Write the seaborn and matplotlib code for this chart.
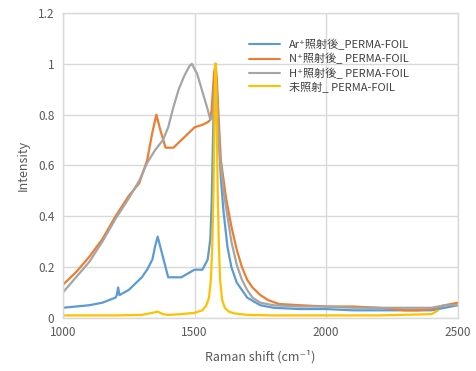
import matplotlib
matplotlib.use("Agg")
import matplotlib.pyplot as plt
import seaborn as sns
import pandas as pd

# --- data ---
ar_x = [1000, 1050, 1100, 1150, 1200, 1205, 1210, 1215, 1250, 1300, 1320, 1340, 1350, 1360, 1370, 1380,
        1400, 1450, 1500, 1530, 1550, 1560, 1565, 1570, 1575, 1580, 1585, 1590, 1600, 1610, 1625, 1640,
        1660, 1700, 1750, 1800, 1900, 2000, 2100, 2200, 2300, 2400, 2450, 2500]
ar_y = [0.04, 0.045, 0.05, 0.06, 0.08, 0.09, 0.12, 0.09, 0.11, 0.16, 0.19, 0.23, 0.28, 0.32, 0.28, 0.24,
        0.16, 0.16, 0.19, 0.19, 0.23, 0.31, 0.45, 0.70, 0.92, 1.0, 0.88, 0.75, 0.55, 0.42, 0.28, 0.20,
        0.14, 0.08, 0.05, 0.04, 0.035, 0.035, 0.03, 0.03, 0.03, 0.03, 0.04, 0.05]

n_x = [1000, 1050, 1100, 1150, 1200, 1250, 1290, 1320, 1340, 1355, 1370, 1390, 1420, 1450, 1500, 1530,
       1550, 1560, 1565, 1570, 1575, 1580, 1585, 1590, 1600, 1620, 1640, 1660, 1680, 1700, 1720, 1750,
       1780, 1820, 1900, 2000, 2100, 2200, 2250, 2300, 2350, 2400, 2450, 2500]
n_y = [0.13, 0.18, 0.24, 0.31, 0.40, 0.48, 0.53, 0.62, 0.73, 0.80, 0.74, 0.67, 0.67, 0.70, 0.75, 0.76,
       0.77, 0.78, 0.82, 0.90, 0.97, 1.0, 0.93, 0.82, 0.62, 0.47, 0.36, 0.27, 0.20, 0.15, 0.12, 0.09,
       0.07, 0.055, 0.05, 0.045, 0.045, 0.04, 0.035, 0.03, 0.03, 0.035, 0.05, 0.06]

h_x = [1000, 1050, 1100, 1150, 1200, 1250, 1290, 1320, 1350, 1380, 1400, 1420, 1440, 1460, 1480, 1490,
       1500, 1510, 1530, 1550, 1560, 1570, 1575, 1580, 1585, 1595, 1600, 1610, 1625, 1640, 1660, 1680,
       1700, 1720, 1750, 1800, 1900, 2000, 2100, 2200, 2300, 2400, 2450, 2500]
h_y = [0.10, 0.16, 0.22, 0.30, 0.39, 0.47, 0.54, 0.61, 0.66, 0.70, 0.75, 0.83, 0.90, 0.95, 0.99, 1.0,
       0.98, 0.96, 0.89, 0.82, 0.78, 0.80, 0.90, 0.97, 0.88, 0.66, 0.60, 0.50, 0.40, 0.30, 0.21, 0.15,
       0.11, 0.08, 0.06, 0.05, 0.045, 0.045, 0.04, 0.04, 0.04, 0.04, 0.05, 0.05]

u_x = [1000, 1100, 1200, 1300, 1340, 1360, 1380, 1400, 1450, 1500, 1530, 1545, 1555, 1562, 1568, 1572,
       1576, 1580, 1584, 1588, 1592, 1597, 1605, 1615, 1630, 1650, 1700, 1800, 2000, 2200, 2400, 2425]
u_y = [0.01, 0.01, 0.01, 0.012, 0.02, 0.025, 0.015, 0.012, 0.015, 0.02, 0.03, 0.05, 0.08, 0.15, 0.30, 0.50,
       0.80, 1.0, 0.80, 0.50, 0.30, 0.15, 0.07, 0.04, 0.025, 0.018, 0.012, 0.01, 0.01, 0.01, 0.015, 0.03]

labels = ["Ar\u207a照射後_PERMA-FOIL", "N\u207a照射後_ PERMA-FOIL", "H\u207a照射後_ PERMA-FOIL", "未照射_ PERMA-FOIL"]
colors = ["#5B9BD5", "#ED7D31", "#A5A5A5", "#FFC000"]
xticks = [1000, 1500, 2000, 2500]
yticks = [0, 0.2, 0.4, 0.6, 0.8, 1.0, 1.2]
ytick_labels = ["0", "0.2", "0.4", "0.6", "0.8", "1", "1.2"]

frames = []
for lab, xs, ys in zip(labels, [ar_x, n_x, h_x, u_x], [ar_y, n_y, h_y, u_y]):
    frames.append(pd.DataFrame({"shift": xs, "intensity": ys, "sample": lab}))
df = pd.concat(frames, ignore_index=True)

sns.set_theme(style="white")
plt.rcParams["font.family"] = ["Noto Sans CJK JP", "DejaVu Sans"]

fig = plt.figure(figsize=(4.76, 3.71), dpi=100)
ax = fig.add_axes([0.132, 0.143, 0.830, 0.822])

sns.lineplot(data=df, x="shift", y="intensity", hue="sample", hue_order=labels,
             palette=dict(zip(labels, colors)), estimator=None, sort=False,
             linewidth=1.6, ax=ax)

ax.set_xlim(1000, 2500)
ax.set_ylim(0, 1.2)
ax.set_xticks(xticks)
ax.set_xticklabels([str(t) for t in xticks])
ax.set_yticks(yticks)
ax.set_yticklabels(ytick_labels)
ax.grid(True, color="#D9D9D9", linewidth=1.0)
ax.set_axisbelow(True)
for s in ax.spines.values():
    s.set_color("#D9D9D9")
    s.set_linewidth(1.0)
ax.tick_params(axis="both", length=0, labelsize=8.5, colors="#595959", pad=6)
ax.set_xlabel("Raman shift (cm\u207b\u00b9)", fontsize=9, color="#595959", labelpad=8)
ax.set_ylabel("Intensity", fontsize=9, color="#595959", labelpad=6)

leg = ax.legend(loc="upper left", bbox_to_anchor=(0.46, 0.93), frameon=False, fontsize=8,
                handlelength=2.8, labelspacing=0.25, handletextpad=0.8, borderaxespad=0)
for line in leg.get_lines():
    line.set_linewidth(1.5)
for t in leg.get_texts():
    t.set_color("#404040")

fig.savefig("out.png", dpi=100)
